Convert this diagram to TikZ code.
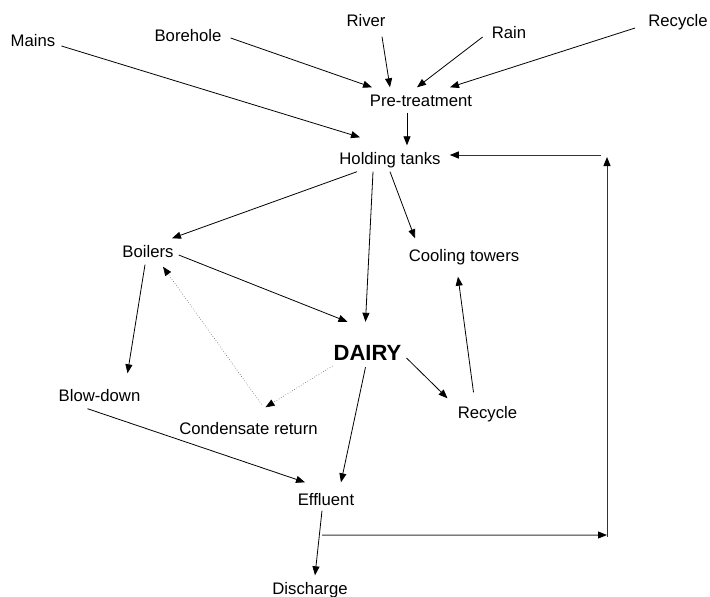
\documentclass[tikz,border=0pt]{standalone}
\usepackage{fontspec}
\setmainfont{Liberation Sans}
\usepackage{tikz}
\usetikzlibrary{arrows.meta,positioning}
\tikzstyle{place} = [inner sep=0pt, text height=11.5pt, text depth=3.5pt, font=\fontsize{16.7}{20}\selectfont]
\tikzstyle{plant} = [inner sep=0pt, text height=16pt, text depth=0pt, font=\fontsize{22}{26}\selectfont\bfseries]
\tikzstyle{flow} = [line width=0.8pt, -{Triangle[length=9pt,width=7pt]}]
\tikzstyle{steam} = [line width=0.6pt, dotted, black!65, -{Triangle[length=9pt,width=7pt,black]}]
\tikzstyle{backflow} = [line width=1pt, black!80, -{Triangle[length=9pt,width=7pt,black]}]

\begin{document}
\begin{tikzpicture}[x=1pt, y=-1pt]
\useasboundingbox (0,0) rectangle (710,597);

% sources
\node[place] (mains) at (33,42) {Mains};
\node[place] (borehole) at (188,37) {Borehole};
\node[place] (river) at (366,23) {River};
\node[place] (rain) at (509,34) {Rain};
\node[place] (recyclein) at (678,23) {Recycle};

% treatment and storage
\node[place] (pretreat) at (421,102) {Pre-treatment};
\node[place] (holding) at (390,160) {Holding tanks};
\node[place] (boilers) at (148,253) {Boilers};
\node[place] (cooling) at (464,257) {Cooling towers};
\node[plant] (dairy) at (367.5,352) {DAIRY};
\node[place] (blowdown) at (99.5,397) {Blow-down};
\node[place] (condensate) at (248.5,430) {Condensate return};
\node[place] (recycleout) at (487.5,414) {Recycle};
\node[place] (effluent) at (326,501) {Effluent};
\node[place] (discharge) at (310,590) {Discharge};

\coordinate (loopa) at (607,535);
\coordinate (loopb) at (607,155);

\draw[flow] ([xshift=6pt,yshift=-4pt]mains.east) -- ([xshift=-30pt,yshift=15pt]holding.north);
\draw[flow] ([xshift=9pt,yshift=-1pt]borehole.east) -- ([xshift=-49pt,yshift=7pt]pretreat.north);
\draw[flow] ([xshift=16pt,yshift=-6pt]river.south) -- ([xshift=-31pt,yshift=7pt]pretreat.north);
\draw[flow] ([xshift=-9pt,yshift=-3pt]rain.west) -- ([xshift=-4pt,yshift=7pt]pretreat.north);
\draw[flow] ([xshift=-13pt,yshift=-5pt]recyclein.west) -- ([xshift=29pt,yshift=7pt]pretreat.north);
\draw[flow] ([xshift=-14pt,yshift=-3pt]pretreat.south) -- ([xshift=17pt,yshift=7pt]holding.north);

\draw[flow] ([xshift=-33pt,yshift=-4pt]holding.south) -- ([xshift=24pt,yshift=7pt]boilers.north);
\draw[flow] ([xshift=-17pt,yshift=-4pt]holding.south) -- ([xshift=-2pt,yshift=22pt]dairy.north);
\draw[flow] ([yshift=-4pt]holding.south) -- ([xshift=-49pt,yshift=11pt]cooling.north);
\draw[flow] ([xshift=5pt,yshift=-2pt]boilers.east) -- ([xshift=-20pt,yshift=22pt]dairy.north);
\draw[flow] ([xshift=-3pt,yshift=-4pt]boilers.south) -- ([xshift=28pt,yshift=16pt]blowdown.north);

\draw[steam] ([xshift=-1pt,yshift=-14pt]dairy.west) -- ([xshift=17pt,yshift=15pt]condensate.north);
\draw[steam] ([xshift=13pt,yshift=18pt]condensate.north) -- ([xshift=15pt,yshift=-6pt]boilers.south);

\draw[flow] ([xshift=5pt,yshift=-6pt]dairy.east) -- ([xshift=-40pt,yshift=8pt]recycleout.north);
\draw[flow] ([xshift=-14pt,yshift=14pt]recycleout.north) -- ([xshift=-6pt,yshift=-12pt]cooling.south);
\draw[flow] ([xshift=-2pt,yshift=-7pt]dairy.south) -- ([xshift=15pt,yshift=11pt]effluent.north);
\draw[flow] ([xshift=-12pt,yshift=-4pt]blowdown.south) -- ([xshift=-21pt,yshift=11pt]effluent.north);
\draw[flow] ([xshift=-4pt,yshift=-2pt]effluent.south) -- ([xshift=5pt,yshift=7pt]discharge.north);

% water returned to the holding tanks
\draw[backflow] ([xshift=-4pt,yshift=-26.5pt]effluent.south) -- (loopa);
\draw[backflow] ([yshift=-2pt]loopa) -- ([yshift=-2pt]loopb);
\draw[backflow] ([xshift=-6pt]loopb) -- ([xshift=9pt,yshift=5pt]holding.east);
\end{tikzpicture}
\end{document}
